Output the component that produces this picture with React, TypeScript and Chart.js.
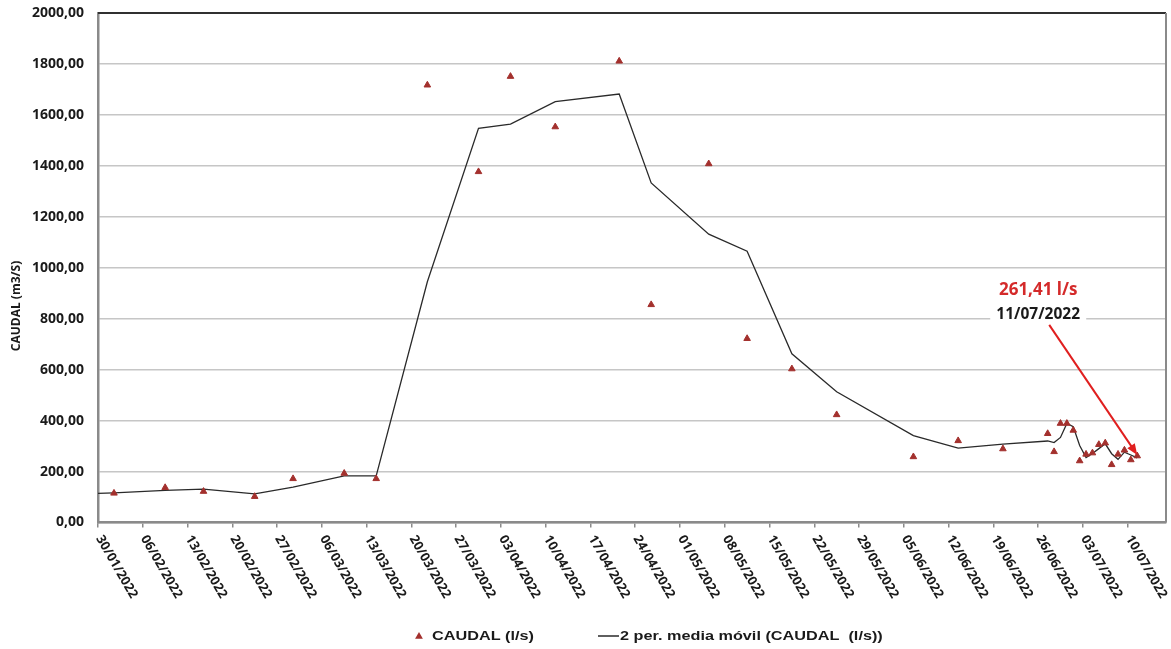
import React, { useEffect, useRef } from "react";
import { Chart, registerables } from "chart.js";

Chart.register(...registerables);

// ---------- data ----------
const X_TICK_LABELS = [
  "30/01/2022", "06/02/2022", "13/02/2022", "20/02/2022", "27/02/2022", "06/03/2022",
  "13/03/2022", "20/03/2022", "27/03/2022", "03/04/2022", "10/04/2022", "17/04/2022",
  "24/04/2022", "01/05/2022", "08/05/2022", "15/05/2022", "22/05/2022", "29/05/2022",
  "05/06/2022", "12/06/2022", "19/06/2022", "26/06/2022", "03/07/2022", "10/07/2022",
];
const X_MIN_DATE = "30/01/2022";
const X_MAX_DATE = "16/07/2022";
const Y_MIN = 0;
const Y_MAX = 2000;
const Y_STEP = 200;

const CAUDAL_DATES = [
  "01/02/2022 12:00", "09/02/2022 12:00", "15/02/2022 12:00", "23/02/2022 12:00",
  "01/03/2022 12:00", "09/03/2022 12:00", "14/03/2022 12:00", "22/03/2022 12:00",
  "30/03/2022 12:00", "04/04/2022 12:00", "11/04/2022 12:00", "21/04/2022 12:00",
  "26/04/2022 12:00", "05/05/2022 12:00", "11/05/2022 12:00", "18/05/2022 12:00",
  "25/05/2022 12:00", "06/06/2022 12:00", "13/06/2022 12:00", "20/06/2022 12:00",
  "27/06/2022 12:00", "28/06/2022 12:00", "29/06/2022 12:00", "30/06/2022 12:00",
  "01/07/2022 12:00", "02/07/2022 12:00", "03/07/2022 12:00", "04/07/2022 12:00",
  "05/07/2022 12:00", "06/07/2022 12:00", "07/07/2022 12:00", "08/07/2022 12:00",
  "09/07/2022 12:00", "10/07/2022 12:00", "11/07/2022 12:00",
];
const CAUDAL_VALUES = [
  115, 137, 122, 102, 172, 193, 172, 1717, 1377, 1751, 1553, 1811, 855, 1408, 722, 603,
  423, 258, 321, 289, 349, 278, 389, 389, 362, 242, 268, 273, 306, 312, 227, 268, 284,
  246, 261.41,
];

const MEDIA_DATES = ["30/01/2022 00:00", ...CAUDAL_DATES];
const MEDIA_VALUES = [
  114, 116, 126, 131, 112, 139, 183, 183, 945, 1547, 1564, 1652, 1682, 1333, 1132, 1065,
  662, 513, 341, 292, 308, 320, 314, 334, 389, 376, 302, 255, 271, 290, 309, 270, 248,
  276, 265, 254,
];

const SERIES_CAUDAL = "CAUDAL (l/s)";
const SERIES_MEDIA = "2 per. media móvil (CAUDAL  (l/s))";
const Y_TITLE = "CAUDAL (m3/S)";
const NOTE_VALUE = "261,41 l/s";
const NOTE_DATE = "11/07/2022";

// ---------- helpers ----------
function toDays(s: string): number {
  const [d, t] = s.split(" ");
  const [dd, mm, yy] = d.split("/").map(Number);
  let h = 0;
  let mi = 0;
  if (t) [h, mi] = t.split(":").map(Number);
  const [bd, bm, by] = X_MIN_DATE.split("/").map(Number);
  return (Date.UTC(yy, mm - 1, dd, h, mi) - Date.UTC(by, bm - 1, bd)) / 86400000;
}

const POINT_COLOR = "#a3302d";
const LINE_COLOR = "#2a2a2a";
const AXIS_COLOR = "#8a8a8a";
const GRID_COLOR = "#c6c6c6";
const TEXT_COLOR = "#1a1a1a";
const RED = "#e01f1f";

function drawTriangle(ctx: CanvasRenderingContext2D, x: number, y: number, r: number) {
  ctx.beginPath();
  ctx.moveTo(x, y - r);
  ctx.lineTo(x + r * 0.866, y + r * 0.5);
  ctx.lineTo(x - r * 0.866, y + r * 0.5);
  ctx.closePath();
  ctx.fill();
}

const customPlugin = {
  id: "customDecor",
  beforeDatasetsDraw(chart: any) {
    const { ctx, chartArea } = chart;
    ctx.save();
    ctx.strokeStyle = "#303030";
    ctx.lineWidth = 2;
    ctx.beginPath();
    ctx.moveTo(chartArea.left, chartArea.top);
    ctx.lineTo(chartArea.right, chartArea.top);
    ctx.stroke();
    ctx.strokeStyle = AXIS_COLOR;
    ctx.lineWidth = 2;
    ctx.beginPath();
    ctx.moveTo(chartArea.right, chartArea.top);
    ctx.lineTo(chartArea.right, chartArea.bottom);
    ctx.stroke();
    ctx.restore();
  },
  afterDraw(chart: any) {
    const { ctx, chartArea } = chart;
    const xs = chart.scales.x;
    ctx.save();

    // x tick labels, rotated clockwise
    ctx.fillStyle = TEXT_COLOR;
    ctx.font = "bold 13px 'Open Sans'";
    ctx.textAlign = "left";
    ctx.textBaseline = "middle";
    X_TICK_LABELS.forEach((lab) => {
      const px = xs.getPixelForValue(toDays(lab));
      ctx.save();
      ctx.translate(px + 1, chartArea.bottom + 14);
      ctx.rotate((60 * Math.PI) / 180);
      ctx.fillText(lab, 0, 0);
      ctx.restore();
    });

    // y axis title
    ctx.save();
    ctx.translate(17, 306);
    ctx.rotate(-Math.PI / 2);
    ctx.font = "bold 12px 'Open Sans'";
    ctx.textAlign = "center";
    ctx.textBaseline = "middle";
    ctx.fillText(Y_TITLE, 0, 0);
    ctx.restore();

    // annotation
    const meta = chart.getDatasetMeta(0);
    const last = meta.data[meta.data.length - 1];
    if (last) {
      const px = last.x;
      const py = last.y;
      const cx = px - 99;
      ctx.fillStyle = "#ffffff";
      ctx.fillRect(cx - 48, py - 151, 96, 19);
      ctx.fillStyle = TEXT_COLOR;
      ctx.font = "bold 15.5px 'Open Sans'";
      ctx.textAlign = "center";
      ctx.textBaseline = "middle";
      ctx.fillText(NOTE_DATE, cx, py - 141);
      ctx.fillStyle = "#d42a2a";
      ctx.font = "bold 17px 'Open Sans'";
      ctx.fillText(NOTE_VALUE, cx, py - 166);
      const sx = px - 88;
      const sy = py - 131;
      const ex = px;
      const ey = py - 1;
      const ang = Math.atan2(ey - sy, ex - sx);
      const head = 11;
      ctx.strokeStyle = RED;
      ctx.lineWidth = 2;
      ctx.beginPath();
      ctx.moveTo(sx, sy);
      ctx.lineTo(ex - Math.cos(ang) * head * 0.8, ey - Math.sin(ang) * head * 0.8);
      ctx.stroke();
      ctx.fillStyle = RED;
      ctx.beginPath();
      ctx.moveTo(ex, ey);
      ctx.lineTo(ex - head * Math.cos(ang) + 4.5 * Math.sin(ang), ey - head * Math.sin(ang) - 4.5 * Math.cos(ang));
      ctx.lineTo(ex - head * Math.cos(ang) - 4.5 * Math.sin(ang), ey - head * Math.sin(ang) + 4.5 * Math.cos(ang));
      ctx.closePath();
      ctx.fill();
    }

    // legend
    const ly = 636;
    ctx.fillStyle = POINT_COLOR;
    drawTriangle(ctx, 419, ly + 0.5, 4.5);
    ctx.fillStyle = TEXT_COLOR;
    ctx.font = "bold 13px 'Liberation Sans'";
    ctx.textAlign = "left";
    ctx.textBaseline = "middle";
    ctx.save();
    ctx.translate(432, ly);
    ctx.scale(1.25, 1);
    ctx.fillText(SERIES_CAUDAL, 0, 0);
    ctx.restore();
    ctx.strokeStyle = LINE_COLOR;
    ctx.lineWidth = 1.5;
    ctx.beginPath();
    ctx.moveTo(598, ly);
    ctx.lineTo(619, ly);
    ctx.stroke();
    ctx.save();
    ctx.translate(620, ly);
    ctx.scale(1.25, 1);
    ctx.fillText(SERIES_MEDIA, 0, 0);
    ctx.restore();

    ctx.restore();
  },
};

export default function App() {
  const ref = useRef<HTMLCanvasElement | null>(null);

  useEffect(() => {
    if (!ref.current) return;
    const caudal = CAUDAL_DATES.map((d, i) => ({ x: toDays(d), y: CAUDAL_VALUES[i] }));
    const media = MEDIA_DATES.map((d, i) => ({ x: toDays(d), y: MEDIA_VALUES[i] }));

    const chart = new Chart(ref.current, {
      type: "scatter",
      data: {
        datasets: [
          {
            label: SERIES_CAUDAL,
            data: caudal,
            pointStyle: "triangle",
            pointRadius: 3.8,
            pointBackgroundColor: POINT_COLOR,
            pointBorderColor: POINT_COLOR,
            pointBorderWidth: 1,
            showLine: false,
            order: 1,
          },
          {
            label: SERIES_MEDIA,
            data: media,
            showLine: true,
            borderColor: LINE_COLOR,
            borderWidth: 1.3,
            pointRadius: 0,
            tension: 0,
            order: 2,
          },
        ],
      },
      options: {
        animation: false,
        responsive: true,
        maintainAspectRatio: false,
        layout: { padding: { top: 13, right: 4, bottom: 0, left: 0 } },
        plugins: {
          legend: { display: false },
          tooltip: { enabled: false },
          title: { display: false },
        },
        scales: {
          x: {
            type: "linear",
            min: toDays(X_MIN_DATE),
            max: toDays(X_MAX_DATE),
            afterBuildTicks: (scale: any) => {
              scale.ticks = X_TICK_LABELS.map((l) => ({ value: toDays(l) }));
            },
            afterFit: (scale: any) => {
              scale.height = 126.5;
              scale.paddingLeft = 0;
              scale.paddingRight = 0;
            },
            ticks: { display: false },
            grid: {
              display: true,
              drawOnChartArea: false,
              drawTicks: true,
              tickLength: 5,
              color: AXIS_COLOR,
              lineWidth: 1.5,
            },
            border: { display: true, color: AXIS_COLOR, width: 2.5 },
          },
          y: {
            type: "linear",
            min: Y_MIN,
            max: Y_MAX,
            afterFit: (scale: any) => {
              scale.width = 98;
              scale.paddingTop = 0;
              scale.paddingBottom = 0;
            },
            ticks: {
              stepSize: Y_STEP,
              padding: 14,
              color: TEXT_COLOR,
              font: { family: "'Open Sans'", size: 14, weight: "bold" },
              callback: (v: any) => Number(v).toFixed(2).replace(".", ","),
            },
            grid: {
              color: GRID_COLOR,
              lineWidth: 1.5,
              drawTicks: false,
            },
            border: { display: true, color: AXIS_COLOR, width: 2.5 },
          },
        },
      },
      plugins: [customPlugin],
    });

    return () => chart.destroy();
  }, []);

  return (
    <div style={{ position: "fixed", left: 0, top: 0, width: 1171, height: 649, background: "#fff" }}>
      <canvas ref={ref} style={{ width: "100%", height: "100%" }} />
    </div>
  );
}
